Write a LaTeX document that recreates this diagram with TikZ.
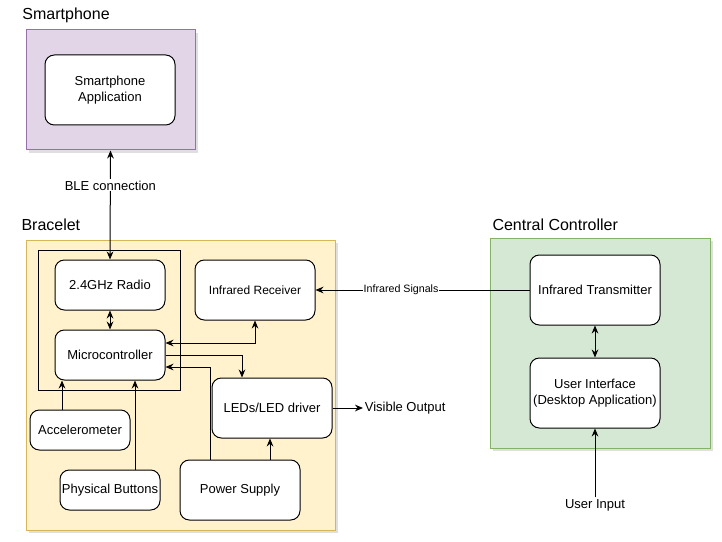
\documentclass[tikz,border=0pt]{standalone}
\usepackage{fontspec}
\setmainfont{Liberation Sans}
\usetikzlibrary{arrows.meta,shadows}

\begin{document}
\begin{tikzpicture}
			[x=0.75pt,y=-0.75pt,line width=0.75pt,
			>={Stealth[length=6pt,width=5pt]},
			%Styles
			group/.style={draw,drop shadow={opacity=0.25,shadow xshift=2pt,shadow yshift=-2pt}},
			block/.style={draw,fill=white,rounded corners=7pt,align=center,inner sep=1pt,font=\fontsize{9.75}{12}\selectfont},
			title/.style={anchor=west,inner sep=0pt,font=\fontsize{12}{14}\selectfont},
			information text/.style={fill=white,inner sep=1pt,font=\fontsize{9.75}{12}\selectfont},
			small text/.style={fill=white,inner sep=0.5pt,font=\fontsize{8}{10}\selectfont}
			]
			
			%Colors
			\definecolor{phonefill}{HTML}{E1D5E7}
			\definecolor{phoneline}{HTML}{9673A6}
			\definecolor{bandfill}{HTML}{FFF2CC}
			\definecolor{bandline}{HTML}{D6B656}
			\definecolor{ctrlfill}{HTML}{D5E8D4}
			\definecolor{ctrlline}{HTML}{82B366}
			
			\useasboundingbox (0,0) rectangle (722,542);
			
			%Groups
			\node[title] (phonetitle) at (22,15) {Smartphone};
			\node[group,fill=phonefill,draw=phoneline,minimum width=126.75pt,minimum height=90pt] (phone) at (110.5,90) {};
			\node[title] (bandtitle) at (21,225) {Bracelet};
			\node[group,fill=bandfill,draw=bandline,minimum width=231.75pt,minimum height=217.5pt] (band) at (180.5,385) {};
			\node[title] (ctrltitle) at (492,225) {Central Controller};
			\node[group,fill=ctrlfill,draw=ctrlline,minimum width=165pt,minimum height=157.5pt] (ctrl) at (600,343) {};
			\node[draw,minimum width=106.5pt,minimum height=105pt] (chip) at (109,320) {};
			
			%The graphic
			\node[block,minimum width=97.5pt,minimum height=52.5pt] (app) at (110,90) {Smartphone\\Application};
			\node[block,minimum width=82.5pt,minimum height=37.5pt] (radio) at (110,285) {2.4GHz Radio};
			\node[block,minimum width=82.5pt,minimum height=37.5pt] (mcu) at (110,355) {Microcontroller};
			\node[block,minimum width=90pt,minimum height=45pt,font=\fontsize{9}{11}\selectfont] (irrx) at (255,290) {Infrared Receiver};
			\node[block,minimum width=90pt,minimum height=45pt] (leds) at (272,408) {LEDs/LED driver};
			\node[block,minimum width=75pt,minimum height=30pt] (accel) at (80,430) {Accelerometer};
			\node[block,minimum width=75pt,minimum height=30pt] (buttons) at (110,490) {Physical Buttons};
			\node[block,minimum width=90pt,minimum height=45pt] (power) at (240,490) {Power Supply};
			\node[block,minimum width=97.5pt,minimum height=52.5pt] (irtx) at (595,290) {Infrared Transmitter};
			\node[block,minimum width=97.5pt,minimum height=52.5pt] (ui) at (595,393) {User Interface\\(Desktop Application)};
			\node[font=\fontsize{9.75}{12}\selectfont,anchor=west,inner sep=1pt] (output) at (363,408) {Visible Output};
			\node[font=\fontsize{9.75}{12}\selectfont,inner sep=1pt] (input) at (595,505) {User Input};
			
			\draw[<->] (phone.south) -- (radio.north) node[information text,pos=0.32] {BLE connection};
			\draw[->] (irtx.west) -- (irrx.east) node[small text,pos=0.6] {Infrared Signals};
			\draw[<->] (radio) -- (mcu);
			\draw[<->] ([yshift=9pt]mcu.east) -| (irrx.south);
			\draw[->] (mcu.east) -| ([xshift=-22.5pt]leds.north);
			\draw[->] ([xshift=-22.5pt]power.north) |- ([yshift=-9pt]mcu.east);
			\draw[->] ([xshift=22.5pt]power.north) -- ([xshift=22.5pt]power.north |- leds.south);
			\draw[->] ([xshift=-13.5pt]accel.north) -- ([xshift=-13.5pt]accel.north |- mcu.south);
			\draw[->] ([xshift=18.75pt]buttons.north) -- ([xshift=18.75pt]buttons.north |- mcu.south);
			\draw[->] (leds.east) -- (output.west);
			\draw[<->] (irtx) -- (ui);
			\draw[->] (input.north) -- (ui.south);
		\end{tikzpicture}
\end{document}
